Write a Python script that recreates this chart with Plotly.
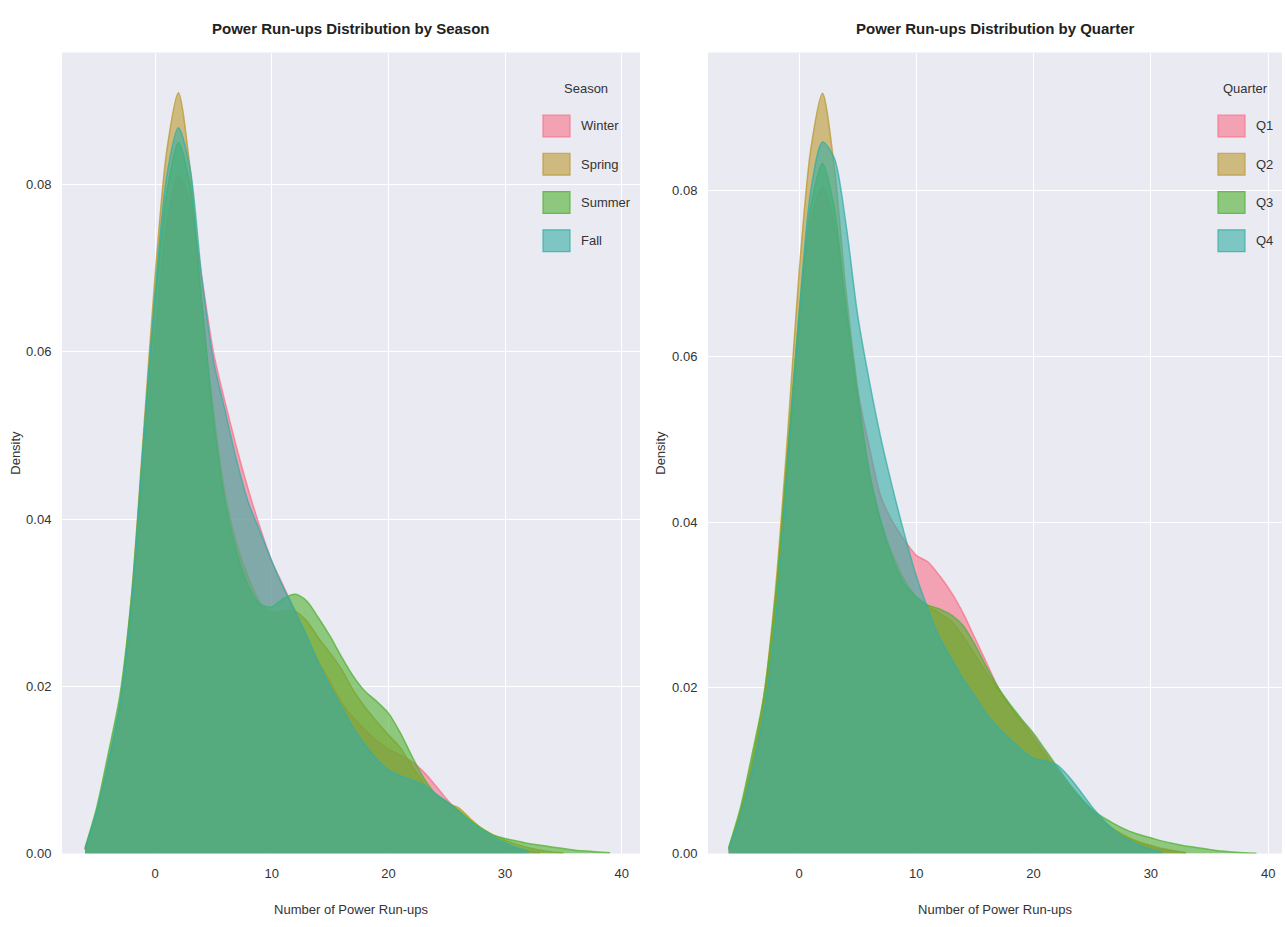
import plotly.graph_objects as go

# ---------------- data ----------------
x_start = -6  # first grid value; grid step is 1

season_names = ["Winter", "Spring", "Summer", "Fall"]
winter = [0.0005, 0.0048, 0.0105, 0.0175, 0.029, 0.046, 0.062, 0.075, 0.081, 0.078,
          0.069, 0.060, 0.054, 0.0485, 0.0435, 0.039, 0.035, 0.032, 0.029, 0.026,
          0.023, 0.0205, 0.018, 0.0162, 0.0148, 0.0135, 0.0125, 0.0118, 0.011, 0.0098,
          0.0082, 0.0065, 0.005, 0.0035, 0.0024, 0.0016, 0.001, 0.0006, 0.0003, 0.0001]
spring = [0.0005, 0.005, 0.011, 0.018, 0.031, 0.050, 0.069, 0.084, 0.091, 0.082,
          0.066, 0.053, 0.043, 0.037, 0.033, 0.030, 0.0288, 0.029, 0.029, 0.0278,
          0.0258, 0.024, 0.022, 0.0195, 0.0175, 0.0158, 0.0142, 0.0127, 0.0105, 0.0085,
          0.0068, 0.006, 0.0055, 0.0042, 0.003, 0.0022, 0.0016, 0.0011, 0.0007, 0.0004,
          0.0002, 0.0001]
summer = [0.0007, 0.0055, 0.012, 0.019, 0.031, 0.049, 0.066, 0.079, 0.085, 0.080,
          0.066, 0.052, 0.042, 0.036, 0.032, 0.0298, 0.0295, 0.0305, 0.031, 0.0302,
          0.0282, 0.026, 0.0235, 0.0212, 0.0194, 0.0182, 0.0168, 0.0145, 0.0117, 0.0091,
          0.0072, 0.0062, 0.0052, 0.004, 0.003, 0.0022, 0.0018, 0.0015, 0.0012, 0.001,
          0.0008, 0.0006, 0.0004, 0.0003, 0.0002, 0.0001]
fall = [0.0005, 0.005, 0.011, 0.018, 0.030, 0.049, 0.067, 0.081, 0.0868, 0.082,
        0.069, 0.059, 0.053, 0.047, 0.042, 0.0385, 0.035, 0.0318, 0.029, 0.026,
        0.0228, 0.020, 0.0175, 0.015, 0.013, 0.0113, 0.010, 0.0093, 0.0088, 0.0082,
        0.0072, 0.0062, 0.005, 0.0038, 0.0028, 0.002, 0.0013, 0.0007, 0.0003]

quarter_names = ["Q1", "Q2", "Q3", "Q4"]
q1 = [0.0005, 0.005, 0.011, 0.018, 0.030, 0.047, 0.063, 0.076, 0.0805, 0.076,
      0.066, 0.056, 0.049, 0.043, 0.040, 0.0378, 0.036, 0.0352, 0.0335, 0.0315,
      0.029, 0.026, 0.023, 0.020, 0.0178, 0.016, 0.0142, 0.0122, 0.0102, 0.0083,
      0.0066, 0.005, 0.0037, 0.0027, 0.0019, 0.0013, 0.0008, 0.0005, 0.0003, 0.0001]
q2 = [0.0006, 0.005, 0.011, 0.019, 0.032, 0.050, 0.070, 0.085, 0.0918, 0.083,
      0.068, 0.056, 0.046, 0.040, 0.036, 0.033, 0.031, 0.0298, 0.029, 0.028,
      0.0262, 0.024, 0.0218, 0.0198, 0.0178, 0.0158, 0.0138, 0.0118, 0.0098, 0.008,
      0.0066, 0.0052, 0.0038, 0.0028, 0.002, 0.0014, 0.001, 0.0006, 0.0003, 0.0001]
q3 = [0.0007, 0.0055, 0.012, 0.019, 0.031, 0.048, 0.065, 0.078, 0.0833, 0.078,
      0.066, 0.055, 0.046, 0.040, 0.0355, 0.0325, 0.031, 0.030, 0.0295, 0.0288,
      0.0275, 0.0252, 0.0225, 0.020, 0.018, 0.0162, 0.0145, 0.0125, 0.0105, 0.0085,
      0.0068, 0.0053, 0.0043, 0.0035, 0.0028, 0.0023, 0.0019, 0.0015, 0.0012, 0.0009,
      0.0007, 0.0005, 0.0003, 0.0002, 0.0001, 0.00005]
q4 = [0.0005, 0.0045, 0.010, 0.017, 0.028, 0.046, 0.065, 0.080, 0.0859, 0.084,
      0.076, 0.065, 0.057, 0.050, 0.044, 0.0385, 0.0335, 0.0295, 0.026, 0.0235,
      0.021, 0.019, 0.0168, 0.0152, 0.0138, 0.0125, 0.0115, 0.0112, 0.0107, 0.0093,
      0.0075, 0.0056, 0.004, 0.0026, 0.0017, 0.001, 0.0005, 0.0002]

x_ticks = [0, 10, 20, 30, 40]
y_ticks = [0.00, 0.02, 0.04, 0.06, 0.08]

# ---------------- style ----------------
palette = [(247, 113, 137), (187, 152, 50), (80, 177, 49), (54, 173, 164)]
bg = "#EAEAF2"
font_family = "Liberation Sans, Arial, sans-serif"
text_col = "#333333"

W, H = 1285, 927
L_left, L_right = 62, 640
R_left, R_right = 708, 1282
top, bottom = 53, 861

fig = go.Figure()
shapes = []
annotations = []


def px(xp):
    return xp / W


def py(yp):
    return 1 - yp / H


def add_group(names, series, xaxis, yaxis, title, patch_x0, label_x, title_x):
    annotations.append(dict(text=title, x=px(title_x), y=py(89), xref="paper", yref="paper",
                            showarrow=False, xanchor="center", yanchor="middle",
                            font=dict(size=13, color=text_col)))
    for i, (name, vals) in enumerate(zip(names, series)):
        r, g, b = palette[i]
        xs = [x_start + k for k in range(len(vals))]
        fig.add_trace(go.Scatter(
            x=xs, y=vals, name=name, mode="lines",
            line=dict(color=f"rgba({r},{g},{b},0.75)", width=1.5, shape="spline", smoothing=0.8),
            fill="tozeroy", fillcolor=f"rgba({r},{g},{b},0.6)",
            xaxis=xaxis, yaxis=yaxis, showlegend=False,
            hoverinfo="x+y+name",
        ))
        cy = 127 + i * 38.6
        shapes.append(dict(type="rect", xref="paper", yref="paper",
                           x0=px(patch_x0), x1=px(patch_x0 + 27), y0=py(cy + 11), y1=py(cy - 11),
                           fillcolor=f"rgba({r},{g},{b},0.6)",
                           line=dict(color=f"rgba({r},{g},{b},0.8)", width=1.2)))
        annotations.append(dict(text=name, x=px(label_x), y=py(cy), xref="paper", yref="paper",
                                showarrow=False, xanchor="left", yanchor="middle",
                                font=dict(size=13, color=text_col)))


add_group(season_names, [winter, spring, summer, fall], "x", "y", "Season", 543, 579, 586)
add_group(quarter_names, [q1, q2, q3, q4], "x2", "y2", "Quarter", 1218, 1254, 1245)

axis_common = dict(
    showgrid=True, gridcolor="white", gridwidth=1.2, zeroline=False,
    showline=False, tickfont=dict(size=13, color=text_col, family=font_family),
)
xaxis_extra = dict(ticks="outside", ticklen=8, tickcolor="rgba(0,0,0,0)")
yaxis_extra = dict(ticks="outside", ticklen=7, tickcolor="rgba(0,0,0,0)")

for t in [("Power Run-ups Distribution by Season", (L_left + L_right) / 2),
          ("Power Run-ups Distribution by Quarter", (R_left + R_right) / 2)]:
    annotations.append(dict(text=f"<b>{t[0]}</b>", x=px(t[1]), y=py(29), xref="paper", yref="paper",
                            showarrow=False, xanchor="center", yanchor="middle",
                            font=dict(size=15, color="#222")))

fig.update_layout(
    width=W, height=H,
    margin=dict(l=0, r=0, t=0, b=0),
    paper_bgcolor="white",
    plot_bgcolor=bg,
    font=dict(family=font_family, color=text_col),
    xaxis=dict(domain=[px(L_left), px(L_right)], range=[-7.97, 41.56], tickvals=x_ticks,
               title=dict(text="Number of Power Run-ups", font=dict(size=13, color=text_col), standoff=24),
               anchor="y", **axis_common, **xaxis_extra),
    yaxis=dict(domain=[py(bottom), py(top)], range=[0, 0.0958], tickvals=y_ticks,
               tickformat=".2f",
               title=dict(text="Density", font=dict(size=13, color=text_col), standoff=2),
               anchor="x", **axis_common, **yaxis_extra),
    xaxis2=dict(domain=[px(R_left), px(R_right)], range=[-7.76, 41.18], tickvals=x_ticks,
                title=dict(text="Number of Power Run-ups", font=dict(size=13, color=text_col), standoff=24),
                anchor="y2", **axis_common, **xaxis_extra),
    yaxis2=dict(domain=[py(bottom), py(top)], range=[0, 0.0967], tickvals=y_ticks,
                tickformat=".2f",
                title=dict(text="Density", font=dict(size=13, color=text_col), standoff=3),
                anchor="x2", **axis_common, **yaxis_extra),
    shapes=shapes,
    annotations=annotations,
    showlegend=False,
)

fig.write_html("out.html", config={"displayModeBar": False},
               post_script="document.body.style.margin='0';")
